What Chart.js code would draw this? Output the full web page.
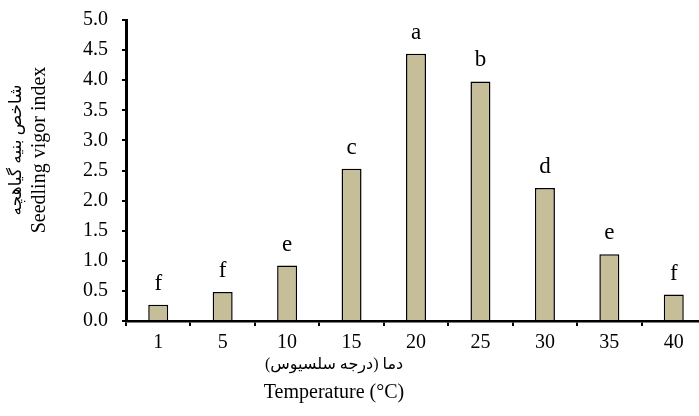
<!DOCTYPE html>
<html>
<head>
<meta charset="utf-8">
<script src="https://cdn.jsdelivr.net/npm/chart.js@4/dist/chart.umd.min.js"></script>
<style>
html,body{margin:0;padding:0;overflow:hidden;background:#fff;width:699px;height:416px;}
#wrap{position:absolute;left:0;top:0;width:706px;height:416px;}
</style>
</head>
<body>
<div id="wrap"><canvas id="c" width="706" height="416"></canvas></div>
<script>
const categories = ['1','5','10','15','20','25','30','35','40'];
const vigorIndex = [0.27, 0.48, 0.92, 2.53, 4.44, 3.98, 2.21, 1.11, 0.44];
const groupLetters = ['f','f','e','c','a','b','d','e','f'];
const yTitleLines = ['شاخص بنیه گیاهچه', 'Seedling vigor index'];
const xTitleLines = ['دما (درجه سلسیوس)', 'Temperature (°C)'];

const SERIF = '"Liberation Serif", "Times New Roman", "DejaVu Sans", serif';

const annotate = {
  id: 'annotate',
  afterDatasetsDraw(chart) {
    const ctx = chart.ctx;
    const meta = chart.getDatasetMeta(0);
    ctx.save();
    ctx.fillStyle = '#000';
    ctx.font = '23px ' + SERIF;
    ctx.textAlign = 'center';
    ctx.textBaseline = 'alphabetic';
    meta.data.forEach((bar, i) => {
      ctx.fillText(groupLetters[i], bar.x, bar.y - 15);
    });
    // y title
    ctx.save();
    ctx.translate(0, 150);
    ctx.rotate(-Math.PI / 2);
    ctx.textBaseline = 'middle';
    ctx.font = '17px ' + SERIF;
    ctx.fillText(yTitleLines[0], 0, 17);
    ctx.font = '20px ' + SERIF;
    ctx.fillText(yTitleLines[1], 0, 40);
    ctx.restore();
    // x title
    ctx.textBaseline = 'middle';
    ctx.font = '16px ' + SERIF;
    ctx.fillText(xTitleLines[0], 334, 365);
    ctx.font = '20px ' + SERIF;
    ctx.fillText(xTitleLines[1], 334, 393);
    ctx.restore();
  }
};

new Chart(document.getElementById('c'), {
  type: 'bar',
  data: {
    labels: categories,
    datasets: [{
      data: vigorIndex,
      backgroundColor: '#C6BE99',
      borderColor: '#000',
      borderWidth: 1.5,
      barPercentage: 0.31,
      categoryPercentage: 1.0
    }]
  },
  options: {
    responsive: false,
    animation: false,
    devicePixelRatio: 1,
    layout: { padding: { top: 20, right: 0, left: 0, bottom: 0 } },
    plugins: { legend: { display: false }, tooltip: { enabled: false } },
    scales: {
      x: {
        grid: { display: true, drawOnChartArea: false, drawTicks: true, tickLength: 5, color: '#000', lineWidth: 2, offset: true },
        border: { display: true, color: '#000', width: 2.5 },
        ticks: { color: '#000', font: { family: SERIF, size: 20 }, padding: 5, maxRotation: 0 },
        afterFit(scale) { scale.height = 95; scale.paddingLeft = 0; scale.paddingRight = 0; }
      },
      y: {
        min: 0, max: 5,
        grid: { display: true, drawOnChartArea: false, drawTicks: true, tickLength: 4, color: '#000', lineWidth: 2 },
        border: { display: true, color: '#000', width: 3 },
        ticks: { stepSize: 0.5, color: '#000', font: { family: SERIF, size: 20 }, padding: 14,
          callback: v => Number(v).toFixed(1) },
        afterFit(scale) { scale.width = 126; scale.paddingTop = 0; scale.paddingBottom = 0; }
      }
    }
  },
  plugins: [annotate]
});
</script>
</body>
</html>
